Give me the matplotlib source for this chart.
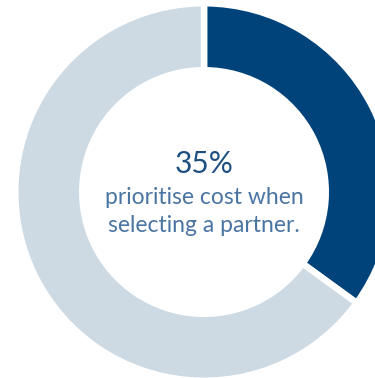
import matplotlib
matplotlib.use("Agg")
import matplotlib.pyplot as plt

# share of respondents
labels = ["prioritise cost", "other"]
values = [35, 65]
colors = ["#00437a", "#cdd9e3"]

headline = "35%"
caption = ["prioritise cost when", "selecting a partner."]

plt.rcParams["font.family"] = ["Lato", "DejaVu Sans"]

fig = plt.figure(figsize=(3.75, 3.78), dpi=100)
ax = fig.add_axes([0, 0, 1, 1])
ax.set_xlim(0, 375)
ax.set_ylim(0, 378)
ax.set_aspect("equal")
ax.axis("off")

gap = 6.5  # white separator, px
outer, inner = 185.5, 125
cx, cy = 204, 186

ax.pie(values, colors=colors, startangle=90, counterclock=False,
       center=(cx, cy), radius=outer + gap / 2,
       wedgeprops=dict(width=outer - inner + gap, edgecolor="white",
                       linewidth=gap * 72 / 100))
ax.set_xlim(0, 375)
ax.set_ylim(0, 378)

ax.text(cx, 378 - 173.3, headline, ha="center", va="baseline",
        fontsize=21.5, color="#1d4f80")
ax.text(cx, 378 - 204.5, caption[0], ha="center", va="baseline",
        fontsize=16.5, color="#4a74a2")
ax.text(cx, 378 - 232.5, caption[1], ha="center", va="baseline",
        fontsize=16.5, color="#4a74a2")

fig.savefig("out.png", dpi=100)
